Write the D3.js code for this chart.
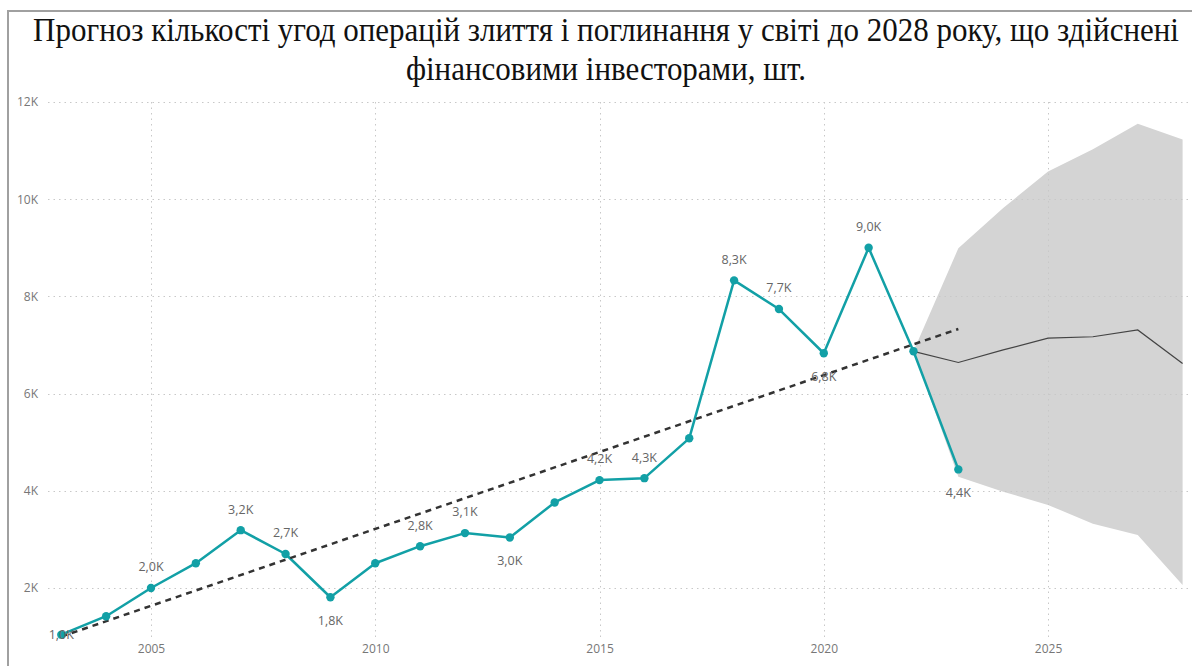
<!DOCTYPE html>
<html>
<head>
<meta charset="utf-8">
<script src="https://cdn.jsdelivr.net/npm/d3@7"></script>
<style>
  html, body { margin: 0; padding: 0; background: #fff; }
  svg { display: block; }
</style>
</head>
<body>
<svg id="chart" width="1192" height="666"></svg>
<script>
// ---- data ----
const years = [2003, 2004, 2005, 2006, 2007, 2008, 2009, 2010, 2011, 2012, 2013,
               2014, 2015, 2016, 2017, 2018, 2019, 2020, 2021, 2022, 2023];
const deals = [1040, 1420, 2000, 2510, 3190, 2700, 1810, 2510, 2860, 3130, 3040,
               3760, 4220, 4260, 5080, 8330, 7740, 6830, 9000, 6870, 4440];
const labelText = ["1,0K", null, "2,0K", null, "3,2K", "2,7K", "1,8K", null, "2,8K", "3,1K", "3,0K",
                   null, "4,2K", "4,3K", null, "8,3K", "7,7K", "6,8K", "9,0K", null, "4,4K"];
const labelPlace = ["c", null, "a", null, "a", "a", "b", null, "a", "a", "b",
                    null, "a", "a", null, "a", "a", "b", "a", null, "b"];

const forecastYears = [2022, 2023, 2024, 2025, 2026, 2027, 2028];
const forecast      = [6870, 6640, 6900, 7140, 7170, 7310, 6620];
const forecastUpper = [6870, 8990, 9820, 10570, 11030, 11550, 11230];
const forecastLower = [6870, 4290, 3980, 3710, 3320, 3090, 2060];

const trendYears  = [2003, 2023];
const trendValues = [1000, 7330];

const xTicks = [2005, 2010, 2015, 2020, 2025];
const yTicks = [2000, 4000, 6000, 8000, 10000, 12000];
const yTickLabels = ["2K", "4K", "6K", "8K", "10K", "12K"];

const titleLines = [
  "Прогноз кількості угод операцій злиття і поглинання у світі до 2028 року, що здійснені",
  "фінансовими інвесторами, шт."
];

// ---- layout ----
const svg = d3.select("#chart");
const plotTop = 102, plotBottom = 640, gridLeft = 48, gridRight = 1192;
const x = d3.scaleLinear().domain([2003, 2028]).range([61.3, 1182.6]);
const y = d3.scaleLinear().domain([0, 12000]).range([685.2, 102]);

const uiFont = "'Segoe UI', 'Open Sans', 'Noto Sans', sans-serif";
const teal = "#12a0a6";

// frame
svg.append("path")
  .attr("d", `M8,666 L8,11 L1192,11`)
  .attr("fill", "none").attr("stroke", "#a0a0a0").attr("stroke-width", 2);

// title (condensed horizontally via scale so the first line spans the reference width)
const titleTexts = titleLines.map((t, i) =>
  svg.append("text")
    .attr("x", 0).attr("y", 0)
    .attr("text-anchor", "middle")
    .attr("font-family", "'Liberation Serif', 'Times New Roman', serif")
    .attr("font-size", 33)
    .attr("fill", "#111")
    .text(t));
{
  const w = titleTexts[0].node().getComputedTextLength();
  const sx = w > 0 ? Math.min(1, 1146 / w) : 1;
  titleTexts.forEach((t, i) =>
    t.attr("transform", `translate(606,${41 + i * 39}) scale(${sx},1)`));
}

// forecast band
const area = d3.area()
  .x((d, i) => x(forecastYears[i]))
  .y0((d, i) => y(forecastLower[i]))
  .y1((d, i) => y(forecastUpper[i]));
svg.append("path")
  .datum(forecastYears)
  .attr("d", area)
  .attr("fill", "#d4d4d4");

// gridlines
const grid = svg.append("g")
  .attr("stroke", "#c8c8c8").attr("stroke-width", 1)
  .attr("stroke-dasharray", "1.5,4");
grid.selectAll(".hg").data(yTicks).join("line")
  .attr("x1", gridLeft).attr("x2", gridRight)
  .attr("y1", d => Math.round(y(d)) + 0.5).attr("y2", d => Math.round(y(d)) + 0.5);
grid.selectAll(".vg").data(xTicks).join("line")
  .attr("x1", d => Math.round(x(d)) + 0.5).attr("x2", d => Math.round(x(d)) + 0.5)
  .attr("y1", plotTop).attr("y2", plotBottom);

// axes (labels only, via d3 axes)
const yAxis = svg.append("g")
  .attr("transform", "translate(38,0)")
  .call(d3.axisLeft(y).tickValues(yTicks).tickSize(0).tickPadding(0)
        .tickFormat((d, i) => yTickLabels[i]));
yAxis.select(".domain").remove();
yAxis.selectAll("text")
  .attr("font-family", uiFont).attr("font-size", 12).attr("fill", "#777");

const xAxis = svg.append("g")
  .attr("transform", `translate(0,${plotBottom})`)
  .call(d3.axisBottom(x).tickValues(xTicks).tickSize(0).tickPadding(4)
        .tickFormat(d3.format("d")));
xAxis.select(".domain").remove();
xAxis.selectAll("text")
  .attr("font-family", uiFont).attr("font-size", 12).attr("fill", "#777");

// forecast line
svg.append("path")
  .datum(forecastYears)
  .attr("d", d3.line().x((d, i) => x(forecastYears[i])).y((d, i) => y(forecast[i])))
  .attr("fill", "none").attr("stroke", "#444").attr("stroke-width", 1.2);

// main line
svg.append("path")
  .datum(years)
  .attr("d", d3.line().x((d, i) => x(years[i])).y((d, i) => y(deals[i])))
  .attr("fill", "none").attr("stroke", teal).attr("stroke-width", 2.5)
  .attr("stroke-linejoin", "round");

// trend line
svg.append("path")
  .datum(trendYears)
  .attr("d", d3.line().x((d, i) => x(trendYears[i])).y((d, i) => y(trendValues[i])))
  .attr("fill", "none").attr("stroke", "#333").attr("stroke-width", 2.5)
  .attr("stroke-dasharray", "6,5");

// markers
svg.selectAll(".pt").data(years).join("circle")
  .attr("cx", (d, i) => x(years[i])).attr("cy", (d, i) => y(deals[i]))
  .attr("r", 4.2).attr("fill", teal);

// data labels
svg.selectAll(".lbl").data(years).join("text")
  .filter((d, i) => labelText[i] !== null)
  .attr("x", d => x(d))
  .attr("y", d => {
    const i = years.indexOf(d);
    const py = y(deals[i]);
    return labelPlace[i] === "a" ? py - 21 : labelPlace[i] === "b" ? py + 23 : py;
  })
  .attr("dy", "0.35em")
  .attr("text-anchor", "middle")
  .attr("font-family", uiFont).attr("font-size", 12.5).attr("fill", "#666")
  .text(d => labelText[years.indexOf(d)]);
</script>
</body>
</html>
